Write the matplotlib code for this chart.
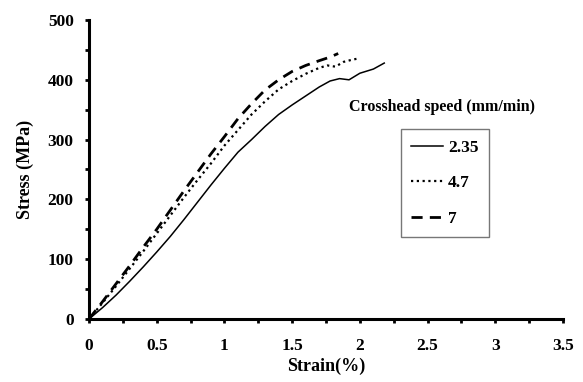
import matplotlib
matplotlib.use('Agg')
import matplotlib.pyplot as plt
from matplotlib.ticker import MultipleLocator

plt.rcParams['font.family'] = ['Liberation Serif', 'DejaVu Serif']
plt.rcParams['font.weight'] = 'bold'

# crosshead speed 2.35 mm/min
strain_235 = [0, 0.1, 0.2, 0.3, 0.4, 0.5, 0.6, 0.7, 0.8, 0.9, 1.0, 1.1, 1.2, 1.3,
              1.4, 1.5, 1.6, 1.7, 1.78, 1.85, 1.92, 2.0, 2.1, 2.18]
stress_235 = [0, 19, 40, 63, 87, 112, 138, 166, 195, 224, 252, 279, 300, 322,
              342, 358, 373, 388, 398, 402, 400, 411, 418, 428]

# 4.7 mm/min
strain_47 = [0, 0.1, 0.2, 0.3, 0.4, 0.5, 0.6, 0.7, 0.8, 0.9, 1.0, 1.1, 1.2, 1.3,
             1.4, 1.5, 1.6, 1.7, 1.76, 1.82, 1.88, 1.95, 2.0]
stress_47 = [0, 27, 55, 84, 113, 143, 173, 203, 232, 260, 290, 316, 342, 364,
             384, 398, 410, 420, 424, 422, 430, 434, 436]

# 7 mm/min
strain_7 = [0, 0.1, 0.2, 0.3, 0.4, 0.5, 0.6, 0.7, 0.8, 0.9, 1.0, 1.1, 1.2, 1.3,
            1.4, 1.5, 1.6, 1.7, 1.78, 1.84]
stress_7 = [0, 29, 59, 89, 120, 150, 182, 214, 245, 276, 305, 335, 360, 383,
            400, 414, 424, 432, 438, 444]

xticks = [0, 0.5, 1, 1.5, 2, 2.5, 3, 3.5]
xticklabels = ['0', '0.5', '1', '1.5', '2', '2.5', '3', '3.5']

fig = plt.figure(figsize=(5.83, 3.82), dpi=100)
ax = fig.add_axes([0.1527, 0.165, 0.813, 0.7826])

ax.plot(strain_235, stress_235, color='black', lw=1.1, ls='-', label='2.35')
ax.plot(strain_47, stress_47, color='black', lw=1.6, ls=(0, (1, 1.6)), label='4.7')
ax.plot(strain_7, stress_7, color='black', lw=2.0, ls=(0, (4, 2.6)), label='7')

ax.set_xlim(0, 3.5)
ax.set_ylim(0, 500)
ax.set_xticks(xticks)
ax.set_xticklabels(xticklabels)
ax.xaxis.set_minor_locator(MultipleLocator(0.25))
ax.yaxis.set_major_locator(MultipleLocator(100))
ax.yaxis.set_minor_locator(MultipleLocator(50))

for s in ['top', 'right']:
    ax.spines[s].set_visible(False)
for s in ['left', 'bottom']:
    ax.spines[s].set_linewidth(2.2)

ax.tick_params(which='both', direction='out', width=2, length=3, labelsize=12.5)
ax.tick_params(axis='x', pad=11)
ax.tick_params(axis='y', pad=8)

ax.set_xlabel('Strain(%)', fontsize=13, fontweight='bold', labelpad=2)
ax.set_ylabel('Stress (MPa)', fontsize=13, fontweight='bold', labelpad=10)

ax.text(0.745, 0.709, 'Crosshead speed (mm/min)', transform=ax.transAxes,
        ha='center', va='center', fontsize=11.5, fontweight='bold')

leg = ax.legend(loc='upper left', bbox_to_anchor=(0.658, 0.635), fontsize=12.5,
                frameon=True, fancybox=False, edgecolor='#555555',
                handlelength=1.8, handletextpad=0.3, labelspacing=1.12,
                borderpad=0.6, borderaxespad=0)
leg.get_frame().set_linewidth(1.0)

fig.savefig('out.png', dpi=100)
